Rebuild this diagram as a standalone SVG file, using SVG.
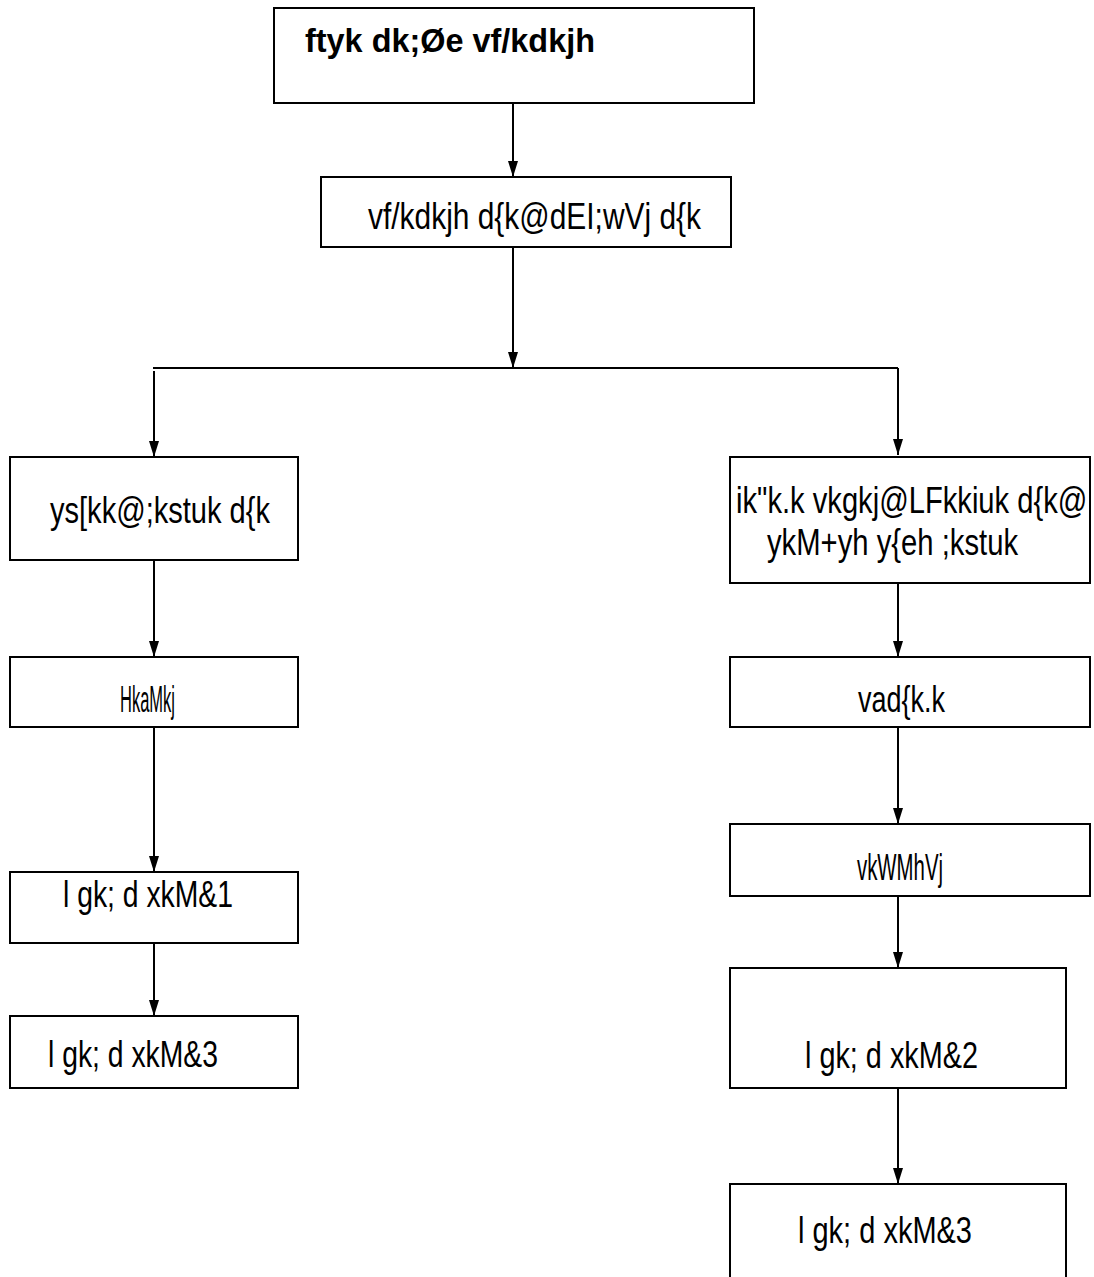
<svg xmlns="http://www.w3.org/2000/svg" width="1094" height="1277" viewBox="0 0 1094 1277">
<style>
.box{fill:#fff;stroke:#000;stroke-width:2}
.t{font-family:"Liberation Sans",Arial,sans-serif;font-size:37px;fill:#000}
.b{font-weight:bold;font-size:34px}
.ln{stroke:#000;stroke-width:2;fill:none}
.ah{fill:#000}
</style>
<rect width="1094" height="1277" fill="#fff"/>
<g id="connectors">
<path class="ln" d="M513,103 V177"/>
<path class="ah" d="M508,161 L518,161 L513,177 Z"/>
<path class="ln" d="M513,247 V368"/>
<path class="ah" d="M508,352 L518,352 L513,368 Z"/>
<path class="ln" d="M153,368 H898"/>
<path class="ln" d="M154,371 V457"/>
<path class="ah" d="M149,441 L159,441 L154,457 Z"/>
<path class="ln" d="M898,368 V455"/>
<path class="ah" d="M893,439 L903,439 L898,455 Z"/>
<path class="ln" d="M154,560 V657"/>
<path class="ah" d="M149,641 L159,641 L154,657 Z"/>
<path class="ln" d="M154,727 V872"/>
<path class="ah" d="M149,856 L159,856 L154,872 Z"/>
<path class="ln" d="M154,943 V1016"/>
<path class="ah" d="M149,1000 L159,1000 L154,1016 Z"/>
<path class="ln" d="M898,583 V657"/>
<path class="ah" d="M893,641 L903,641 L898,657 Z"/>
<path class="ln" d="M898,727 V824"/>
<path class="ah" d="M893,808 L903,808 L898,824 Z"/>
<path class="ln" d="M898,896 V968"/>
<path class="ah" d="M893,952 L903,952 L898,968 Z"/>
<path class="ln" d="M898,1088 V1184"/>
<path class="ah" d="M893,1168 L903,1168 L898,1184 Z"/>
</g>
<g id="n1"><rect class="box" x="274" y="8" width="480" height="95"/><text class="t b" x="305" y="52" textLength="290" lengthAdjust="spacingAndGlyphs">ftyk dk;Øe vf/kdkjh</text></g>
<g id="n2"><rect class="box" x="321" y="177" width="410" height="70"/><text class="t" x="368" y="229" textLength="333" lengthAdjust="spacingAndGlyphs">vf/kdkjh d{k@dEI;wVj d{k</text></g>
<g id="n3"><rect class="box" x="10" y="457" width="288" height="103"/><text class="t" x="50" y="523" textLength="220" lengthAdjust="spacingAndGlyphs">ys[kk@;kstuk d{k</text></g>
<g id="n4"><rect class="box" x="10" y="657" width="288" height="70"/><text class="t" x="120" y="712" textLength="55" lengthAdjust="spacingAndGlyphs">HkaMkj</text></g>
<g id="n5"><rect class="box" x="10" y="872" width="288" height="71"/><text class="t" x="63" y="907" textLength="170" lengthAdjust="spacingAndGlyphs">l gk; d xkM&amp;1</text></g>
<g id="n6"><rect class="box" x="10" y="1016" width="288" height="72"/><text class="t" x="48" y="1067" textLength="170" lengthAdjust="spacingAndGlyphs">l gk; d xkM&amp;3</text></g>
<g id="n7"><rect class="box" x="730" y="457" width="360" height="126"/><text class="t" x="0" y="0" font-size="36" transform="translate(736,513) scale(0.788,1)">ik"k.k vkgkj@LFkkiuk d{k@</text><text class="t" x="767" y="555" textLength="251" lengthAdjust="spacingAndGlyphs">ykM+yh y{eh ;kstuk</text></g>
<g id="n8"><rect class="box" x="730" y="657" width="360" height="70"/><text class="t" x="858" y="712" textLength="87" lengthAdjust="spacingAndGlyphs">vad{k.k</text></g>
<g id="n9"><rect class="box" x="730" y="824" width="360" height="72"/><text class="t" x="857" y="880" textLength="86" lengthAdjust="spacingAndGlyphs">vkWMhVj</text></g>
<g id="n10"><rect class="box" x="730" y="968" width="336" height="120"/><text class="t" x="805" y="1068" textLength="173" lengthAdjust="spacingAndGlyphs">l gk; d xkM&amp;2</text></g>
<g id="n11"><path class="box" d="M730,1280 V1184 H1066 V1280"/><text class="t" x="798" y="1243" textLength="174" lengthAdjust="spacingAndGlyphs">l gk; d xkM&amp;3</text></g>
</svg>
